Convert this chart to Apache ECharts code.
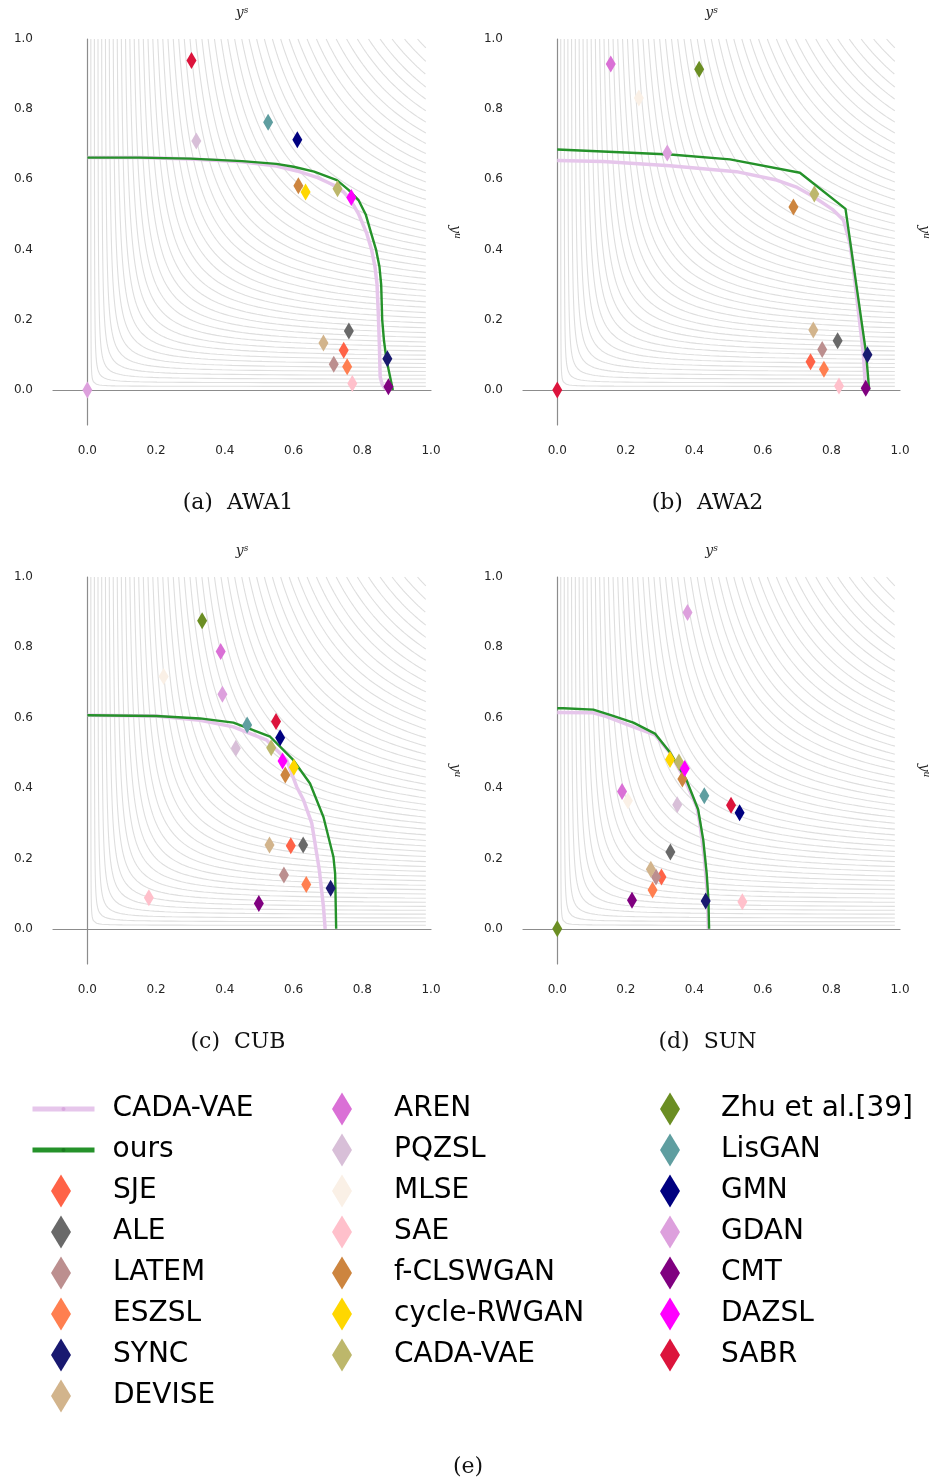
<!DOCTYPE html>
<html>
<head>
<meta charset="utf-8">
<script src="https://cdn.jsdelivr.net/npm/echarts@6/dist/echarts.min.js"></script>
<style>
  html, body { margin: 0; padding: 0; background: #fff; }
  #chart { width: 937px; height: 1482px; }
</style>
</head>
<body>
<div id="chart"></div>
<script>
// methods in legend order (trailing space keeps the marker entry apart from the CADA-VAE line)
const methods = ['SJE', 'ALE', 'LATEM', 'ESZSL', 'SYNC', 'DEVISE',
  'AREN', 'PQZSL', 'MLSE', 'SAE', 'f-CLSWGAN', 'cycle-RWGAN', 'CADA-VAE ',
  'Zhu et al.[39]', 'LisGAN', 'GMN', 'GDAN', 'CMT', 'DAZSL', 'SABR']
const methodColors = ['#FF6347', '#696969', '#BC8F8F', '#FF7F50', '#191970', '#D2B48C',
  '#DA70D6', '#D8BFD8', '#FAF0E6', '#FFC0CB', '#CD853F', '#FFD700', '#BDB76B',
  '#6B8E23', '#5F9EA0', '#000080', '#DDA0DD', '#800080', '#FF00FF', '#DC143C']

// y^s (x) and y^u (y) per method, null = not reported
const awa1X = [0.746, 0.761, 0.717, 0.756, 0.873, 0.687, null, 0.317, null, 0.771, 0.614, 0.635, 0.728, null, 0.526, 0.611, 0.0, 0.876, 0.768, 0.303]
const awa1Y = [0.113, 0.168, 0.073, 0.066, 0.089, 0.134, null, 0.709, null, 0.018, 0.582, 0.564, 0.573, null, 0.763, 0.713, 0.0, 0.009, 0.548, 0.939]
const awa2X = [0.739, 0.818, 0.773, 0.778, 0.905, 0.747, 0.156, null, 0.238, 0.822, 0.689, null, 0.750, 0.414, null, null, 0.321, 0.900, null, 0.0]
const awa2Y = [0.080, 0.140, 0.115, 0.059, 0.100, 0.171, 0.929, null, 0.832, 0.011, 0.521, null, 0.558, 0.914, null, null, 0.675, 0.005, null, 0.0]
const cubX = [0.592, 0.628, 0.572, 0.637, 0.708, 0.530, 0.388, 0.432, 0.222, 0.179, 0.576, 0.601, 0.535, 0.334, 0.465, 0.561, 0.393, 0.499, 0.568, 0.549]
const cubY = [0.236, 0.238, 0.153, 0.126, 0.115, 0.238, 0.788, 0.513, 0.717, 0.088, 0.437, 0.459, 0.515, 0.876, 0.579, 0.543, 0.667, 0.072, 0.477, 0.589]
const sunX = [0.304, 0.330, 0.288, 0.278, 0.433, 0.273, 0.189, 0.350, 0.206, 0.540, 0.365, 0.329, 0.355, 0.0, 0.429, 0.532, 0.380, 0.218, 0.372, 0.507]
const sunY = [0.147, 0.218, 0.147, 0.110, 0.079, 0.169, 0.390, 0.353, 0.364, 0.077, 0.426, 0.481, 0.474, 0.0, 0.378, 0.330, 0.899, 0.081, 0.456, 0.351]

// curves: ours and CADA-VAE
const awa1OursX = [0, 0.15, 0.30, 0.45, 0.55, 0.60, 0.66, 0.726, 0.76, 0.789, 0.81, 0.826, 0.840, 0.850, 0.855, 0.858, 0.863, 0.870, 0.889]
const awa1OursY = [0.662, 0.662, 0.659, 0.652, 0.644, 0.636, 0.622, 0.598, 0.57, 0.541, 0.50, 0.446, 0.40, 0.351, 0.30, 0.20, 0.142, 0.089, 0.0]
const awa1CadaX = [0, 0.15, 0.30, 0.45, 0.55, 0.61, 0.67, 0.716, 0.745, 0.766, 0.79, 0.813, 0.827, 0.837, 0.843, 0.847, 0.850, 0.852, 0.858, 0.866, 0.873]
const awa1CadaY = [0.662, 0.662, 0.658, 0.650, 0.638, 0.624, 0.605, 0.584, 0.565, 0.541, 0.50, 0.446, 0.40, 0.351, 0.30, 0.209, 0.12, 0.038, 0.015, 0.004, 0.0]
const awa2OursX = [0, 0.33, 0.504, 0.708, 0.841, 0.901, 0.910]
const awa2OursY = [0.685, 0.671, 0.657, 0.619, 0.516, 0.105, 0.0]
const awa2CadaX = [0, 0.134, 0.329, 0.523, 0.640, 0.700, 0.747, 0.805, 0.835, 0.854, 0.866, 0.878, 0.893, 0.898, 0.903]
const awa2CadaY = [0.654, 0.651, 0.639, 0.622, 0.598, 0.577, 0.551, 0.513, 0.484, 0.418, 0.33, 0.228, 0.104, 0.028, 0.0]
const cubOursX = [0, 0.20, 0.328, 0.425, 0.532, 0.599, 0.648, 0.687, 0.716, 0.721, 0.724]
const cubOursY = [0.607, 0.605, 0.598, 0.586, 0.546, 0.480, 0.413, 0.318, 0.205, 0.157, 0.0]
const cubCadaX = [0, 0.20, 0.328, 0.425, 0.522, 0.580, 0.609, 0.629, 0.653, 0.675, 0.687, 0.692]
const cubCadaY = [0.607, 0.605, 0.593, 0.574, 0.536, 0.480, 0.404, 0.366, 0.300, 0.167, 0.063, 0.0]
const sunOursX = [0, 0.018, 0.105, 0.154, 0.222, 0.285, 0.329, 0.377, 0.411, 0.426, 0.436, 0.441, 0.443]
const sunOursY = [0.627, 0.627, 0.623, 0.608, 0.586, 0.555, 0.501, 0.423, 0.339, 0.252, 0.157, 0.082, 0.0]
const sunCadaX = [0, 0.105, 0.144, 0.222, 0.285, 0.329, 0.368, 0.407, 0.416, 0.429, 0.438, 0.441]
const sunCadaY = [0.615, 0.614, 0.603, 0.574, 0.551, 0.50, 0.432, 0.347, 0.30, 0.205, 0.10, 0.0]

// harmonic-mean iso lines in the background
const contourLevels = [0.02, 0.04, 0.06, 0.08, 0.10, 0.12, 0.14, 0.16, 0.18, 0.20,
  0.22, 0.24, 0.26, 0.28, 0.30, 0.32, 0.34, 0.36, 0.38, 0.40,
  0.42, 0.44, 0.46, 0.48, 0.50, 0.52, 0.54, 0.56, 0.58, 0.60,
  0.62, 0.64, 0.66, 0.68, 0.70, 0.72, 0.74, 0.76, 0.78, 0.80,
  0.82, 0.84, 0.86, 0.88, 0.90, 0.92, 0.94, 0.96, 0.98]
const tickValues = [0, 0.2, 0.4, 0.6, 0.8, 1.0]
const captions = ['(a)  AWA1', '(b)  AWA2', '(c)  CUB', '(d)  SUN']

const panels = [
  { xs: awa1X, ys: awa1Y, oursX: awa1OursX, oursY: awa1OursY, cadaX: awa1CadaX, cadaY: awa1CadaY },
  { xs: awa2X, ys: awa2Y, oursX: awa2OursX, oursY: awa2OursY, cadaX: awa2CadaX, cadaY: awa2CadaY },
  { xs: cubX, ys: cubY, oursX: cubOursX, oursY: cubOursY, cadaX: cubCadaX, cadaY: cubCadaY },
  { xs: sunX, ys: sunY, oursX: sunOursX, oursY: sunOursY, cadaX: sunCadaX, cadaY: sunCadaY }
]
const gridBoxes = [
  { left: 53, top: 39, width: 378, height: 386 },
  { left: 523, top: 39, width: 377, height: 386 },
  { left: 53, top: 577, width: 378, height: 387 },
  { left: 523, top: 577, width: 377, height: 387 }
]

const labelColor = '#262626'
const axisGray = '#8c8c8c'

// points of the curve 2xy/(x+y) = c, clipped to y <= 1 and x <= 0.985
function isoCurve (c) {
  const pts = []
  const d0 = c * c / (2 * (2 - c))
  const d1 = 0.985 - c / 2
  const n = 70
  for (let k = 0; k <= n; k++) {
    const d = d0 * Math.pow(d1 / d0, k / n)
    pts.push([c / 2 + d, c / 2 + c * c / (4 * d)])
  }
  return pts
}

function zip (a, b) {
  return a.map((v, i) => [v, b[i]])
}

const nameRich = {
  i: { fontFamily: 'DejaVu Serif', fontStyle: 'italic', fontSize: 14, color: labelColor },
  s: { fontFamily: 'DejaVu Serif', fontStyle: 'italic', fontSize: 9, color: labelColor, verticalAlign: 'top' }
}

const grid = []
const xAxis = []
const yAxis = []
const series = []
const graphic = []

gridBoxes.forEach((box, g) => {
  grid.push(Object.assign({ outerBoundsMode: 'none', containLabel: false }, box))
  const base = g * 3
  // main axes: lines through zero
  xAxis.push({
    gridIndex: g, type: 'value', min: -0.1, max: 1.0, position: 'bottom',
    axisLine: { show: true, onZero: true, onZeroAxisIndex: base, lineStyle: { color: axisGray, width: 1.2 } },
    axisTick: { show: false }, axisLabel: { show: false }, splitLine: { show: false }
  })
  // tick labels along the bottom edge
  xAxis.push({
    gridIndex: g, type: 'value', min: -0.1, max: 1.0, position: 'bottom',
    axisLine: { show: false, onZero: false }, axisTick: { show: false }, splitLine: { show: false },
    axisLabel: {
      customValues: tickValues, margin: 20, fontSize: 12, fontFamily: 'DejaVu Sans', color: labelColor,
      formatter: v => v.toFixed(1)
    }
  })
  // name on top
  xAxis.push({
    gridIndex: g, type: 'value', min: -0.1, max: 1.0, position: 'top',
    axisLine: { show: false, onZero: false }, axisTick: { show: false }, axisLabel: { show: false }, splitLine: { show: false },
    name: '{i|y}{s|s}', nameLocation: 'middle', nameGap: 19, nameTextStyle: { rich: nameRich }
  })
  yAxis.push({
    gridIndex: g, type: 'value', min: -0.1, max: 1.0, position: 'left',
    axisLine: { show: true, onZero: true, onZeroAxisIndex: base, lineStyle: { color: axisGray, width: 1.2 } },
    axisTick: { show: false }, axisLabel: { show: false }, splitLine: { show: false }
  })
  yAxis.push({
    gridIndex: g, type: 'value', min: -0.1, max: 1.0, position: 'left',
    axisLine: { show: false, onZero: false }, axisTick: { show: false }, splitLine: { show: false },
    axisLabel: {
      customValues: tickValues, margin: 20, fontSize: 12, fontFamily: 'DejaVu Sans', color: labelColor,
      formatter: v => v.toFixed(1)
    }
  })
  yAxis.push({
    gridIndex: g, type: 'value', min: -0.1, max: 1.0, position: 'right',
    axisLine: { show: false, onZero: false }, axisTick: { show: false }, axisLabel: { show: false }, splitLine: { show: false },
    name: '{i|y}{s|u}', nameLocation: 'middle', nameGap: 17, nameRotate: -90, nameTextStyle: { rich: nameRich }
  })

  contourLevels.forEach(c => {
    series.push({
      type: 'line', xAxisIndex: base, yAxisIndex: base, data: isoCurve(c),
      symbol: 'none', silent: true, z: 1,
      lineStyle: { color: '#dedede', width: 1.1 }
    })
  })

  const p = panels[g]
  series.push({
    name: 'CADA-VAE', type: 'line', xAxisIndex: base, yAxisIndex: base,
    data: zip(p.cadaX, p.cadaY), symbol: 'circle', symbolSize: 4, showSymbol: false, silent: true, z: 2,
    lineStyle: { color: '#e6c6eb', width: 3.5 }, itemStyle: { color: '#d9a9df' }
  })
  series.push({
    name: 'ours', type: 'line', xAxisIndex: base, yAxisIndex: base,
    data: zip(p.oursX, p.oursY), symbol: 'circle', symbolSize: 4, showSymbol: false, silent: true, z: 3,
    lineStyle: { color: '#25922a', width: 2.4 }, itemStyle: { color: '#1a7a1f' }
  })
  methods.forEach((m, i) => {
    if (p.xs[i] === null) return
    series.push({
      name: m, type: 'scatter', xAxisIndex: base, yAxisIndex: base,
      data: [[p.xs[i], p.ys[i]]], symbol: 'diamond', symbolSize: [10, 17], z: 4,
      itemStyle: { color: methodColors[i], opacity: 1 }
    })
  })

  graphic.push({
    type: 'text', x: box.left + box.width / 2 - 4, y: box.top + box.height + 78,
    style: { text: captions[g], fontFamily: 'DejaVu Serif', fontSize: 22, fill: '#111', align: 'center', verticalAlign: 'middle' }
  })
})

graphic.push({
  type: 'text', x: 468, y: 1467,
  style: { text: '(e)', fontFamily: 'DejaVu Serif', fontSize: 22, fill: '#111', align: 'center', verticalAlign: 'middle' }
})

const legendText = { fontSize: 28, fontFamily: 'DejaVu Sans', color: '#000', lineHeight: 33 }
const legend = [
  {
    data: ['CADA-VAE', 'ours'], orient: 'vertical', left: 30, top: 1092.5, padding: 0,
    itemWidth: 62, itemHeight: 5, itemGap: 8, selectedMode: false, lineStyle: { width: 5 },
    textStyle: Object.assign({ padding: [0, 0, 0, 13] }, legendText)
  },
  {
    data: methods.slice(0, 6), orient: 'vertical', left: 51, top: 1174.5, padding: 0,
    itemWidth: 20, itemHeight: 33, itemGap: 8, selectedMode: false,
    textStyle: Object.assign({ padding: [0, 0, 0, 37] }, legendText)
  },
  {
    data: methods.slice(6, 13), orient: 'vertical', left: 332, top: 1092.5, padding: 0,
    itemWidth: 20, itemHeight: 33, itemGap: 8, selectedMode: false,
    textStyle: Object.assign({ padding: [0, 0, 0, 37] }, legendText)
  },
  {
    data: methods.slice(13), orient: 'vertical', left: 660, top: 1092.5, padding: 0,
    itemWidth: 20, itemHeight: 33, itemGap: 8, selectedMode: false,
    textStyle: Object.assign({ padding: [0, 0, 0, 36] }, legendText)
  }
]

const chart = echarts.init(document.getElementById('chart'))
chart.setOption({
  animation: false,
  backgroundColor: '#fff',
  textStyle: { fontFamily: 'DejaVu Sans' },
  grid: grid,
  xAxis: xAxis,
  yAxis: yAxis,
  legend: legend,
  graphic: graphic,
  series: series
})
</script>
</body>
</html>
